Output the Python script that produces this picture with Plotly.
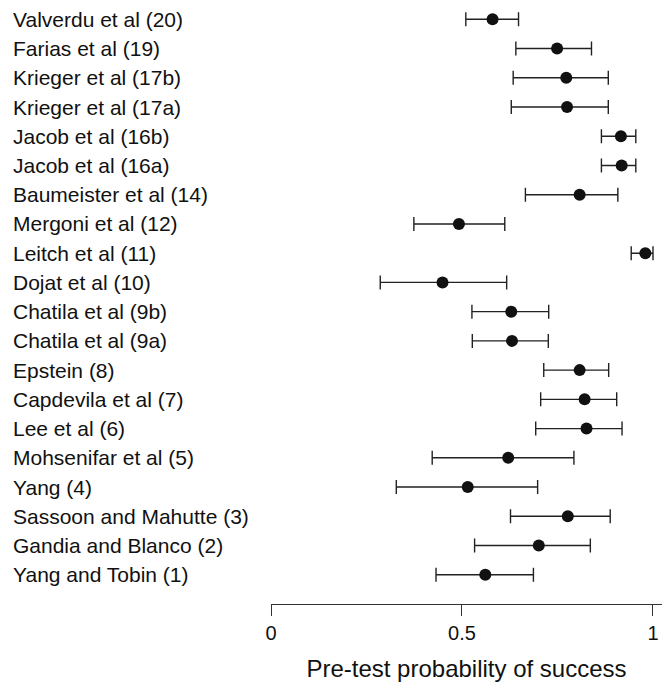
import plotly.graph_objects as go

studies = [
    "Valverdu et al (20)", "Farias et al (19)", "Krieger et al (17b)", "Krieger et al (17a)",
    "Jacob et al (16b)", "Jacob et al (16a)", "Baumeister et al (14)", "Mergoni et al (12)",
    "Leitch et al (11)", "Dojat et al (10)", "Chatila et al (9b)", "Chatila et al (9a)",
    "Epstein (8)", "Capdevila et al (7)", "Lee et al (6)", "Mohsenifar et al (5)",
    "Yang (4)", "Sassoon and Mahutte (3)", "Gandia and Blanco (2)", "Yang and Tobin (1)",
]
estimate = [0.580, 0.749, 0.773, 0.775, 0.916, 0.918, 0.808, 0.492, 0.980, 0.449,
            0.629, 0.631, 0.808, 0.821, 0.826, 0.621, 0.515, 0.777, 0.701, 0.561]
lower = [0.510, 0.641, 0.634, 0.629, 0.865, 0.865, 0.666, 0.374, 0.943, 0.286,
         0.526, 0.527, 0.714, 0.706, 0.693, 0.422, 0.328, 0.627, 0.533, 0.432]
upper = [0.648, 0.839, 0.883, 0.883, 0.955, 0.955, 0.908, 0.612, 1.000, 0.617,
         0.727, 0.726, 0.884, 0.905, 0.919, 0.793, 0.698, 0.888, 0.836, 0.687]
tick_vals = [0, 0.5, 1]
tick_text = ["0", "0.5", "1"]
x_title = "Pre-test probability of success"

n = len(studies)
ypos = [n - i for i in range(n)]

fig = go.Figure()
fig.add_trace(go.Scatter(
    x=estimate, y=ypos, mode="markers",
    marker=dict(symbol="circle", size=12, color="#111111"),
    error_x=dict(type="data", symmetric=False,
                 array=[u - e for u, e in zip(upper, estimate)],
                 arrayminus=[e - l for e, l in zip(estimate, lower)],
                 color="#222222", thickness=1.4, width=7),
    showlegend=False, hoverinfo="skip",
))

W, H = 669, 682
ml, mr, mt, mb = 271, 7, 0, 78
plot_w = W - ml - mr
for y, s in zip(ypos, studies):
    fig.add_annotation(
        x=(11 - ml) / plot_w, xref="paper", y=y, yref="y",
        text=s, showarrow=False, xanchor="left", yanchor="middle",
        font=dict(family="Liberation Sans, Arial, sans-serif", size=21, color="#111111"),
    )

fig.update_layout(
    width=W, height=H,
    margin=dict(l=ml, r=mr, t=mt, b=mb),
    paper_bgcolor="white", plot_bgcolor="white",
    font=dict(family="Liberation Sans, Arial, sans-serif", color="#111111"),
    xaxis=dict(
        range=[0, 1.0236], tickvals=tick_vals, ticktext=tick_text,
        showline=True, linecolor="#333333", linewidth=1.3,
        ticks="outside", ticklen=11, tickwidth=1.3, tickcolor="#333333",
        showgrid=False, zeroline=False,
        tickfont=dict(size=20),
        title=dict(text=x_title, font=dict(size=24), standoff=17),
    ),
    yaxis=dict(range=[0, 20.66], visible=False, showgrid=False, zeroline=False),
)

fig.write_html("out.html")
